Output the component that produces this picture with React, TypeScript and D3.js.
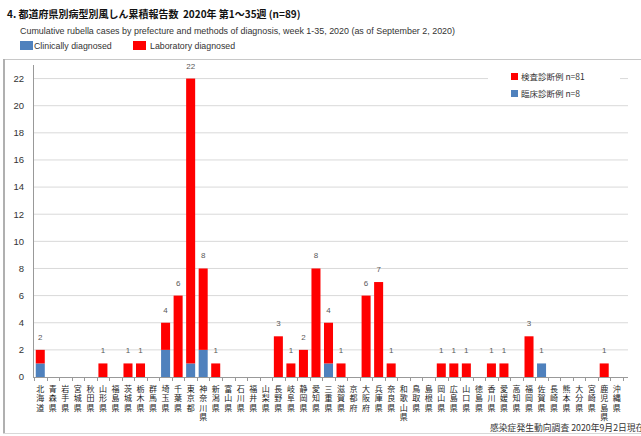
import * as d3 from "d3";

const prefectures = [
  "北海道", "青森県", "岩手県", "宮城県", "秋田県", "山形県", "福島県", "茨城県", "栃木県", "群馬県",
  "埼玉県", "千葉県", "東京都", "神奈川県", "新潟県", "富山県", "石川県", "福井県", "山梨県", "長野県",
  "岐阜県", "静岡県", "愛知県", "三重県", "滋賀県", "京都府", "大阪府", "兵庫県", "奈良県", "和歌山県",
  "鳥取県", "島根県", "岡山県", "広島県", "山口県", "徳島県", "香川県", "愛媛県", "高知県", "福岡県",
  "佐賀県", "長崎県", "熊本県", "大分県", "宮崎県", "鹿児島県", "沖縄県",
];

// 臨床診断例 (blue)
const clinical = [
  1, 0, 0, 0, 0, 0, 0, 0, 0, 0,
  2, 0, 1, 2, 0, 0, 0, 0, 0, 0,
  0, 0, 0, 1, 0, 0, 0, 0, 0, 0,
  0, 0, 0, 0, 0, 0, 0, 0, 0, 0,
  1, 0, 0, 0, 0, 0, 0,
];

// 検査診断例 (red)
const laboratory = [
  1, 0, 0, 0, 0, 1, 0, 1, 1, 0,
  2, 6, 21, 6, 1, 0, 0, 0, 0, 3,
  1, 2, 8, 3, 1, 0, 6, 7, 1, 0,
  0, 0, 1, 1, 1, 0, 1, 1, 0, 3,
  0, 0, 0, 0, 0, 1, 0,
];

const yTicks = [0, 2, 4, 6, 8, 10, 12, 14, 16, 18, 20, 22];

const BLUE = "#4f81bd";
const RED = "#ff0000";
const JP = "'Noto Sans CJK JP', 'Noto Sans', sans-serif";
const LAT = "'Liberation Sans', Arial, sans-serif";

export default function App() {
  const width = 641;
  const height = 436;
  const baseY = 377;

  const x = d3.scaleBand<string>().domain(prefectures).range([34, 623]).paddingInner(0.28).paddingOuter(0.14);
  const y = d3.scaleLinear().domain([0, 23]).range([baseY, 65]);

  const rows = prefectures.map((p, i) => ({
    name: p,
    clin: clinical[i],
    lab: laboratory[i],
    total: clinical[i] + laboratory[i],
  }));

  const stack = d3.stack<any>().keys(["clin", "lab"])(rows);
  const colors: Record<string, string> = { clin: BLUE, lab: RED };
  const step = x.step();
  const bandStart = x.range()[0];
  const cx = (p: string) => (x(p) ?? 0) + x.bandwidth() / 2;

  return (
    <div style={{ position: "absolute", left: 0, top: 0, background: "#fff" }}>
      <svg width={width} height={height} style={{ display: "block" }}>
        <rect x={0} y={0} width={width} height={height} fill="#fff" />

        {/* header */}
        <text x={7} y={18} fontFamily={JP} fontSize={10} fontWeight="bold" fill="#111" style={{ whiteSpace: "pre" }}>
          4. 都道府県別病型別風しん累積報告数  2020年 第1～35週 (n=89)
        </text>
        <text x={20} y={34} fontFamily={LAT} fontSize={8.6} fill="#333" textLength={435} lengthAdjust="spacingAndGlyphs">
          Cumulative rubella cases by prefecture and methods of diagnosis, week 1-35, 2020 (as of September 2, 2020)
        </text>
        <rect x={20} y={41} width={13} height={9} fill={BLUE} />
        <text x={34} y={49} fontFamily={LAT} fontSize={8.8} fill="#333">Clinically diagnosed</text>
        <rect x={133} y={41} width={13} height={9} fill={RED} />
        <text x={150} y={49} fontFamily={LAT} fontSize={8.8} fill="#333">Laboratory diagnosed</text>

        {/* frame */}
        <line x1={3} x2={width} y1={59.5} y2={59.5} stroke="#c8c8c8" />
        <line x1={4} x2={4} y1={59} y2={433} stroke="#b0b0b0" strokeWidth={2} />
        <line x1={3} x2={width} y1={433.5} y2={433.5} stroke="#d8d8d8" />

        {/* gridlines + y tick labels */}
        {yTicks.map((t) => (
          <g key={t}>
            {t > 0 && <line x1={33} x2={628} y1={y(t)} y2={y(t)} stroke="#d9d9d9" />}
            <text x={24} y={y(t)} dy="0.35em" textAnchor="end" fontFamily={LAT} fontSize={9.5} fill="#333">
              {t}
            </text>
          </g>
        ))}

        {/* legend box */}
        <rect x={488} y={67} width={132} height={36} fill="#fff" />
        <rect x={511} y={73} width={7} height={7} fill={RED} />
        <text x={521} y={80} fontFamily={JP} fontSize={8.5} fill="#333">検査診断例 n=81</text>
        <rect x={511} y={90} width={7} height={7} fill={BLUE} />
        <text x={521} y={97} fontFamily={JP} fontSize={8.5} fill="#333">臨床診断例 n=8</text>

        {/* bars */}
        {stack.map((layer) => (
          <g key={layer.key} fill={colors[layer.key]}>
            {layer.map((d, i) =>
              d[1] > d[0] ? (
                <rect
                  key={i}
                  x={x(prefectures[i])}
                  y={y(d[1])}
                  width={x.bandwidth()}
                  height={y(d[0]) - y(d[1])}
                />
              ) : null
            )}
          </g>
        ))}

        {/* value labels */}
        {rows.map((r) =>
          r.total > 0 ? (
            <text
              key={r.name}
              x={cx(r.name)}
              y={y(r.total) - 10}
              textAnchor="middle"
              fontFamily={LAT}
              fontSize={8}
              fill="#595959"
            >
              {r.total}
            </text>
          ) : null
        )}

        {/* axes */}
        <line x1={33.5} x2={33.5} y1={65} y2={baseY} stroke="#999" />
        <line x1={33} x2={628} y1={baseY + 0.5} y2={baseY + 0.5} stroke="#999" />
        {d3.range(prefectures.length + 1).map((i) => {
          const tx = Math.round(bandStart + i * step) + 0.5;
          return <line key={i} x1={tx} x2={tx} y1={baseY} y2={baseY + 4} stroke="#999" />;
        })}

        {/* category labels, one character per line */}
        {prefectures.map((p) => (
          <g key={p}>
            {Array.from(p).map((ch, j) => (
              <text
                key={j}
                x={cx(p)}
                y={392 + j * 9.4}
                textAnchor="middle"
                fontFamily={JP}
                fontSize={8}
                fill="#222"
              >
                {ch}
              </text>
            ))}
          </g>
        ))}

        {/* source */}
        <text x={490} y={431} fontFamily={JP} fontSize={8.8} fill="#333">
          感染症発生動向調査 2020年9月2日現在
        </text>
      </svg>
    </div>
  );
}
